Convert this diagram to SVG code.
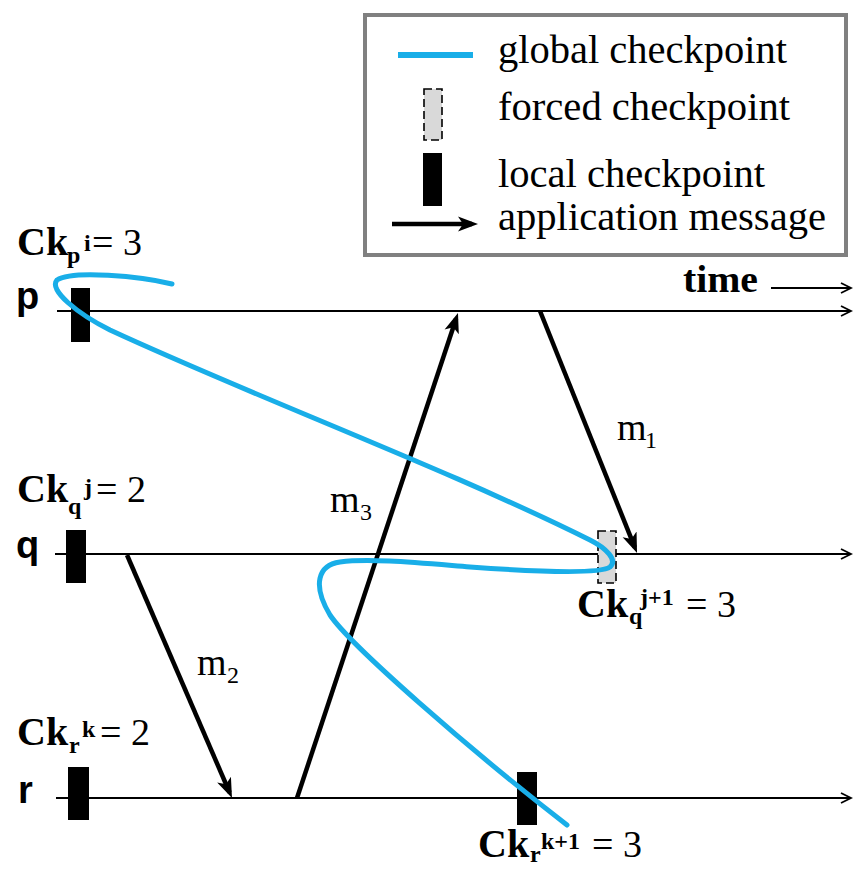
<svg xmlns="http://www.w3.org/2000/svg" width="854" height="871" viewBox="0 0 854 871">
<defs>
<style>
.tl{stroke:#000;stroke-width:2;fill:none}
.msg{stroke:#000;stroke-width:4.5;fill:none}
.gc{stroke:#19aee8;stroke-width:5;fill:none;stroke-linecap:round}
.ser{font-family:"Liberation Serif","Times New Roman",serif;fill:#000}
.bold{font-weight:bold}
.reg{font-weight:normal;font-size:38px}
.lbl{font-size:38px}
.ck{font-size:40px}
.sub{font-size:24px}
.proc{font-family:"Liberation Sans",Arial,sans-serif;font-weight:bold;font-size:38px;fill:#000}
.lck{fill:#000}
.fck{fill:#d9d9d9;stroke:#000;stroke-width:1.6;stroke-dasharray:8,4}
</style>
<marker id="open" markerWidth="14" markerHeight="14" refX="12" refY="7" orient="auto" markerUnits="userSpaceOnUse"><path d="M2,2 L12,7 L2,12" fill="none" stroke="#000" stroke-width="1.8"/></marker>
<marker id="solid" markerWidth="22" markerHeight="18" refX="14" refY="9" orient="auto" markerUnits="userSpaceOnUse"><path d="M0,1.5 L20,9 L0,16.5 L5,9 z" fill="#000"/></marker>
</defs>

<g id="legend">
<rect x="365" y="15" width="481" height="240" fill="#fff" stroke="#808080" stroke-width="4"/>
<line x1="398" y1="55" x2="473" y2="55" stroke="#19aee8" stroke-width="6"/>
<text class="ser" x="498" y="63" font-size="40" textLength="289" lengthAdjust="spacingAndGlyphs">global checkpoint</text>
<rect class="fck" x="424" y="89" width="18" height="51"/>
<text class="ser" x="498" y="120" font-size="40" textLength="292" lengthAdjust="spacingAndGlyphs">forced checkpoint</text>
<rect class="lck" x="423" y="153" width="19" height="53"/>
<text class="ser" x="498" y="187" font-size="40" textLength="267" lengthAdjust="spacingAndGlyphs">local checkpoint</text>
<line class="msg" x1="392" y1="224" x2="472" y2="224" marker-end="url(#solid)"/>
<text class="ser" x="498" y="230" font-size="40" textLength="328" lengthAdjust="spacingAndGlyphs">application message</text>
</g>

<g id="time">
<text class="ser bold" x="683" y="292" font-size="38" textLength="75" lengthAdjust="spacingAndGlyphs">time</text>
<line class="tl" x1="771" y1="288" x2="851" y2="288" marker-end="url(#open)"/>
</g>

<g id="process-p">
<line class="tl" x1="57" y1="311" x2="851" y2="311" marker-end="url(#open)"/>
<text class="proc" x="16" y="309">p</text>
</g>
<g id="process-q">
<line class="tl" x1="55" y1="554" x2="851" y2="554" marker-end="url(#open)"/>
<text class="proc" x="16" y="558">q</text>
</g>
<g id="process-r">
<line class="tl" x1="56" y1="798" x2="851" y2="798" marker-end="url(#open)"/>
<text class="proc" x="18" y="803">r</text>
</g>

<g id="connectors">
<line class="msg" x1="540" y1="311" x2="634.8" y2="547.4" marker-end="url(#solid)"/>
<line class="msg" x1="297" y1="798" x2="456.1" y2="318.7" marker-end="url(#solid)"/>
<line class="msg" x1="127" y1="555" x2="229.6" y2="792.5" marker-end="url(#solid)"/>
</g>

<g id="msg-labels">
<text class="ser lbl" x="617" y="440">m<tspan class="sub" x="645" y="448">1</tspan></text>
<text class="ser lbl" x="330" y="512">m<tspan class="sub" x="360" y="520">3</tspan></text>
<text class="ser lbl" x="197" y="675">m<tspan class="sub" x="227" y="683">2</tspan></text>
</g>

<g id="ck-p-i">
<rect class="lck" x="71" y="288" width="19" height="54"/>
<text class="ser bold ck" x="17" y="255">Ck<tspan class="sub" x="67" y="263">p</tspan><tspan class="sub" x="84" y="251">i</tspan><tspan class="reg" x="92" y="255">= 3</tspan></text>
</g>

<g id="ck-q-j">
<rect class="lck" x="66" y="530" width="20" height="53"/>
<text class="ser bold ck" x="17" y="502">Ck<tspan class="sub" x="68" y="514">q</tspan><tspan class="sub" x="84" y="495">j</tspan><tspan class="reg" x="96" y="502">= 2</tspan></text>
</g>

<g id="ck-q-j1">
<rect class="fck" x="598" y="531" width="18" height="52"/>
<text class="ser bold ck" x="577" y="617">Ck<tspan class="sub" x="629" y="624">q</tspan><tspan class="sub" x="640" y="605">j+1</tspan><tspan class="reg" x="686" y="617">= 3</tspan></text>
</g>

<g id="ck-r-k">
<rect class="lck" x="68" y="767" width="21" height="53"/>
<text class="ser bold ck" x="17" y="745">Ck<tspan class="sub" x="69" y="753">r</tspan><tspan class="sub" x="82" y="737">k</tspan><tspan class="reg" x="100" y="745">= 2</tspan></text>
</g>

<g id="ck-r-k1">
<rect class="lck" x="517" y="772" width="20" height="53"/>
<text class="ser bold ck" x="478" y="857">Ck<tspan class="sub" x="530" y="862">r</tspan><tspan class="sub" x="541" y="849">k+1</tspan><tspan class="reg" x="592" y="857">= 3</tspan></text>
</g>

<g id="global-checkpoint">
<path class="gc" d="M172,284 C140,276 72,270 57,280 C48,290 78,314 110,330 C250,395 450,470 590,540 C606,548 618,560 610,567 C600,574 540,572 470,567 C420,563 370,558 340,562 C318,565 312,585 330,615 C350,645 470,750 567,825"/>
</g>
</svg>
